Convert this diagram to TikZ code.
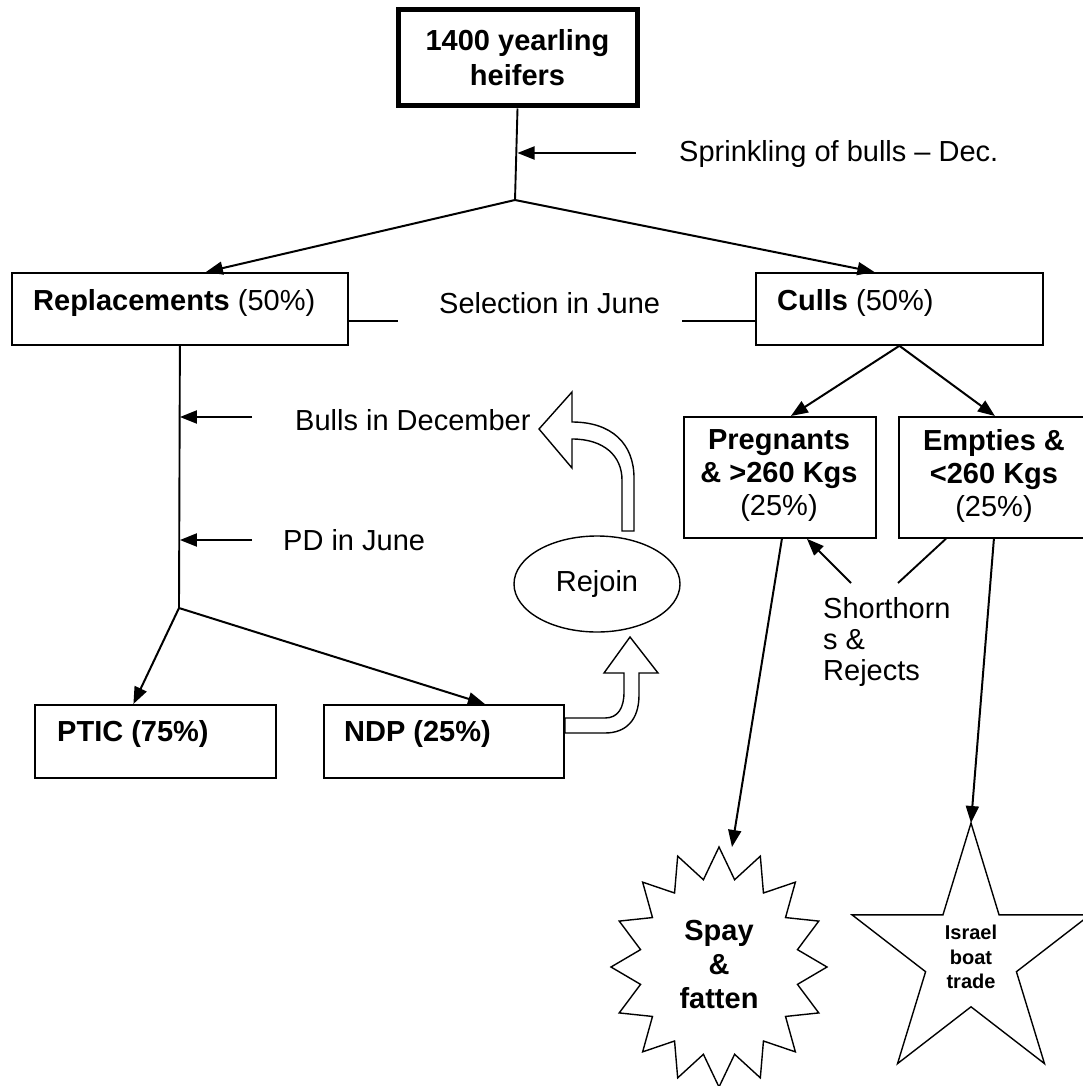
\documentclass[tikz,border=0pt]{standalone}
\usepackage{fontspec}
\setmainfont{Liberation Sans}
\usetikzlibrary{arrows.meta,shapes.geometric}
\newcommand\myN{\fontsize{29}{33}\selectfont}
\newcommand\myB{\fontsize{29}{33}\selectfont\bfseries}
\newcommand\myS{\fontsize{20}{24.5}\selectfont\bfseries}
\begin{document}
\begin{tikzpicture}[x=1pt,y=-1pt,
  box/.style={draw, line width=1.8pt, anchor=north west, inner sep=0pt},
  arr/.style={-{Triangle[length=17pt,width=13pt]}, line width=2pt},
  ln/.style={line width=1.9pt},
  txt/.style={font=\myN, inner sep=0pt},
  btxt/.style={font=\myB, inner sep=0pt, align=center},
  thin/.style={line width=1.4pt},
]
\path[use as bounding box] (0,0) rectangle (1083,1086);
\clip (0,0) rectangle (1083,1086);
\fill[white] (0,0) rectangle (1083,1086);

% title
\node[draw, line width=5pt, anchor=north west, minimum width=239, minimum height=96, inner sep=0pt] (top) at (395.5,7.5) {};
\node[btxt, font=\fontsize{29}{35}\selectfont\bfseries] (toptext) at (top.center) {1400 yearling\\heifers};
\coordinate (split) at (515,200);
\draw[ln] (top.south) -- (split);
\node[txt, anchor=west] (sprt) at (679,154) {Sprinkling of bulls – Dec.};
\coordinate (spr1) at (636,153);
\draw[arr] (spr1) -- (spr1 -| top.south);

% second level
\node[box, minimum width=336, minimum height=72] (rep) at (11,272) {};
\node[txt, anchor=west] (rept) at (33,303) {\textbf{Replacements} (50\%)};
\node[box, minimum width=287, minimum height=72] (culls) at (755,272) {};
\node[txt, anchor=west] (cullst) at (777,303) {\textbf{Culls} (50\%)};
\draw[arr] (split) -- ([xshift=26pt]rep.north);
\draw[arr] (split) -- ([xshift=-25pt]culls.north);
\node[txt, anchor=west] (sel) at (439,303) {Selection in June};
\draw[ln] ([yshift=-12pt]rep.east) -- ++(49,0);
\draw[ln] ([yshift=-12pt]culls.west) -- ++(-73,0);

% culls branch
\node[box, minimum width=192, minimum height=121] (preg) at (683,416) {};
\node[btxt] (pregt) at (779,476) {Pregnants\\\& >260 Kgs\\\mdseries(25\%)};
\node[box, minimum width=192, minimum height=121] (emp) at (898,416) {};
\node[btxt] (empt) at (994,476) {Empties \&\\<260 Kgs\\\mdseries(25\%)};
\draw[arr] (culls.south) -- ([xshift=11pt]preg.north);
\draw[arr] (culls.south) -- (emp.north);

% shorthorns
\node[txt, anchor=north west, align=left, font=\fontsize{29}{31}\selectfont] (sh) at (823,597) {Shorthorn\\s \&\\Rejects};
\coordinate (sh1) at (851,583);
\coordinate (sh2) at (898,583);
\draw[arr] (sh1) -- ([xshift=27pt]preg.south);
\draw[ln] (sh2) -- ([xshift=-49pt]emp.south);

% replacements branch
\coordinate (branch) at (179,608);
\draw[ln] (rep.south) -- (branch);
\node[txt, anchor=west] (bullst) at (295,420) {Bulls in December};
\coordinate (b1) at (252,417);
\draw[arr] (b1) -- (b1 -| rep.south);
\node[txt, anchor=west] (pdt) at (283,540) {PD in June};
\coordinate (p1) at (252,540);
\draw[arr] (p1) -- (p1 -| rep.south);

\node[box, minimum width=241, minimum height=73] (ptic) at (34,704) {};
\node[txt, anchor=west, font=\myB] (ptict) at (57,734) {PTIC (75\%)};
\node[box, minimum width=240, minimum height=73] (ndp) at (323,704) {};
\node[txt, anchor=west, font=\myB] (ndpt) at (344,734) {NDP (25\%)};
\draw[arr] (branch) -- ([xshift=-22pt]ptic.north);
\draw[arr] (branch) -- ([xshift=41pt]ndp.north);

% rejoin
\node[draw, ellipse, thin, minimum width=166, minimum height=96, inner sep=0pt, font=\myN] (rejoin) at (597,584) {Rejoin};
% lower block arrow from NDP to rejoin
\draw[thin, fill=white] (ndp.east |- 0,718) -- (605,718) .. controls (618,718) and (624,708) .. (624,692) -- (624,673) -- (604,673) -- (630,637) -- (658,673) -- (639,673) -- (639,695) .. controls (639,720) and (626,733) .. (605,733) -- (ndp.east |- 0,733) -- cycle;
% upper block arrow from rejoin
\draw[thin, fill=white] (622,531) -- (622,480) .. controls (622,456) and (604,439) .. (572,439) -- (572,468) -- (539,429) -- (572,392) -- (572,422) .. controls (612,422) and (634,444) .. (634,478) -- (634,531) -- cycle;

% spay star (16 points)
\draw[thin] (719,847) \foreach \i in {1,...,31}{ -- ({719+(80+28*iseven(\i))*cos(90+11.25*\i)},{967-(89+31*iseven(\i))*sin(90+11.25*\i)}) } -- cycle;
\node[btxt, font=\fontsize{29}{34}\selectfont\bfseries] (spay) at (719,965) {Spay\\\&\\fatten};
\coordinate (spaytop) at (732,847);
\draw[arr] ([xshift=2pt]preg.south) -- (spaytop);

% israel star
\draw[thin] (971,823) \foreach \i in {1,...,9}{ -- ({971+(47.75+77.25*iseven(\i))*cos(90+36*\i)},{956-(50.8+82.2*iseven(\i))*sin(90+36*\i)}) } -- cycle;
\node[btxt, font=\myS] (isr) at (971,957) {Israel\\boat\\trade};
\coordinate (isrtop) at (971,823);
\draw[arr] ([xshift=-1pt]emp.south) -- (isrtop);
\end{tikzpicture}
\end{document}
